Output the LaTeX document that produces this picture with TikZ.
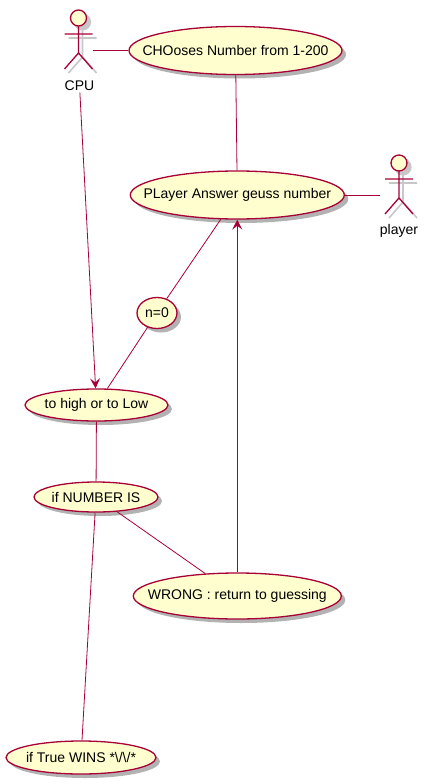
\documentclass[tikz,border=0pt]{standalone}
\usepackage{fontspec}
\setmainfont{Liberation Sans}
\usetikzlibrary{arrows.meta, shapes.geometric, shadows}
\definecolor{umlline}{HTML}{A80036}
\definecolor{umlfill}{HTML}{FEFECE}
\newcommand{\casetext}[1]{\makebox[0pt]{\raisebox{-1pt}{#1}}}
\tikzset{
    usecase/.style={ellipse, draw=umlline, fill=umlfill, line width=1.3pt, inner sep=0pt,
        font=\fontsize{14}{16}\selectfont, text=black,
        drop shadow={shadow xshift=4pt, shadow yshift=-4pt, fill=black, opacity=0.3}},
    actorbox/.style={inner sep=0pt, minimum height=50pt},
    actorlabel/.style={inner sep=2pt, font=\fontsize{14}{16}\selectfont},
    assoc/.style={draw=umlline, line width=0.8pt},
    actorman/.pic={
        \draw[black!22, line width=1.6pt, shift={(4,4)}]
        (-14,16) -- (14,16) (0,8) -- (0,35) (-14,51) -- (0,35) -- (14,51);
        \fill[black!22] (4,4) circle (8.6);
        \draw[umlline, line width=1.3pt, fill=umlfill] (0,0) circle (8);
        \draw[umlline, line width=1.3pt]
        (-14,16) -- (14,16) (0,8) -- (0,35) (-14,51) -- (0,35) -- (14,51);
    }
}
\begin{document}
\begin{tikzpicture}[x=1pt, y=-1pt, >={Stealth[length=10pt, width=10pt, inset=4pt]}]
    \useasboundingbox (0,0) rectangle (430,784);
    % actors
    \pic at (78.5,18) {actorman};
    \pic at (399,163) {actorman};
    \node[actorbox, minimum width=29pt] (cpu) at (78.5,50.5) {};
    \node[actorbox, minimum width=38pt] (player) at (399,195) {};
    \node[actorlabel] (cpulabel) at (79.5,85.5) {CPU};
    \node[actorlabel] (playerlabel) at (399,231) {player};
    % use cases
    \node[usecase, minimum width=213pt, minimum height=48pt] (chooses) at (235.5,50.5) {\casetext{CHOoses Number from 1-200}};
    \node[usecase, minimum width=214pt, minimum height=48pt] (answer) at (237.3,195) {\casetext{PLayer Answer geuss number}};
    \node[usecase, minimum width=40pt, minimum height=31pt] (nzero) at (157,313) {\casetext{n=0}};
    \node[usecase, minimum width=143pt, minimum height=32pt] (tohigh) at (96.5,405) {\casetext{to high or to Low}};
    \node[usecase, minimum width=124pt, minimum height=30pt] (ifnumber) at (96,497) {\casetext{if NUMBER IS}};
    \node[usecase, minimum width=208pt, minimum height=46pt] (wrong) at (237.3,596) {\casetext{WRONG : return to guessing}};
    \node[usecase, minimum width=150pt, minimum height=33pt] (iftrue) at (81,757.5) {\casetext{if True WINS *\textbackslash{}/\textbackslash{}/*}};
    % connectors
    \draw[assoc] (cpu) -- (chooses);
    \draw[assoc] (chooses) -- (answer);
    \draw[assoc] (answer) -- (player);
    \draw[assoc] (answer) -- (nzero);
    \draw[assoc] (nzero) -- (tohigh);
    \draw[assoc, ->] (cpulabel) -- (tohigh);
    \draw[assoc] (tohigh) -- (ifnumber);
    \draw[assoc] (ifnumber) -- (wrong);
    \draw[assoc] (ifnumber) -- (iftrue);
    \draw[assoc, ->] (wrong) -- (answer);
\end{tikzpicture}
\end{document}
